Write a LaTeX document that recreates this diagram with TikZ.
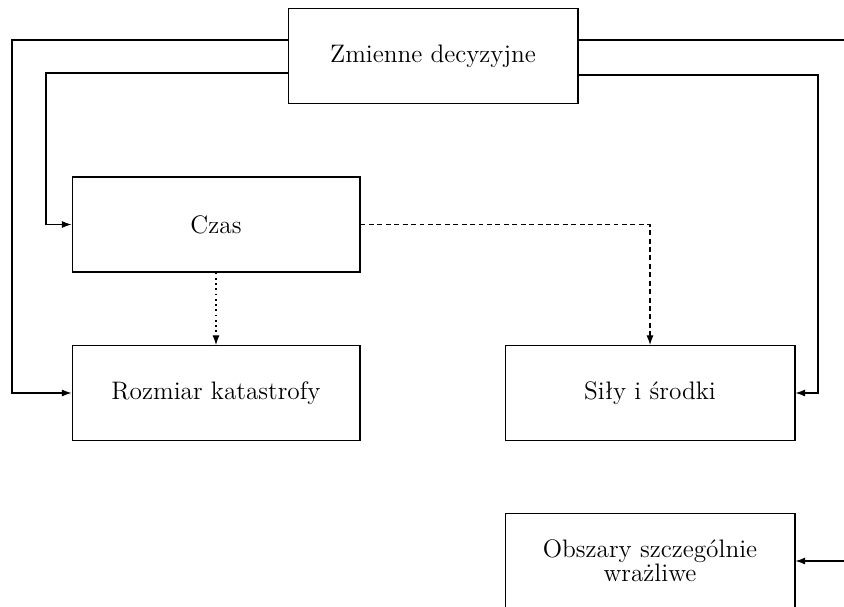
\documentclass[tikz,border=0pt]{standalone}
\usetikzlibrary{arrows.meta}
\begin{document}
\begin{tikzpicture}[
		x=0.02cm, y=-0.02cm,
		>={Latex[length=5.5pt,width=4pt]},
		line width=0.6pt,
		blok/.style={draw, minimum width=5.76cm, minimum height=1.9cm, font=\Large, align=center, inner sep=0pt},
		linia/.style={->},
		kreski/.style={->, dash pattern=on 2.8pt off 2pt},
		kropki/.style={->, dash pattern=on 1pt off 2pt}
	]
	\useasboundingbox (0,0) rectangle (844,607);
	\node[blok, minimum width=5.8cm] (zmienne) at (433,56) {Zmienne decyzyjne};
	\node[blok] (czas) at (216,224.5) {Czas};
	\node[blok] (rozmiar) at (216,393) {Rozmiar katastrofy};
	\node[blok, minimum width=5.8cm] (sily) at (650,393) {Siły i środki};
	\node[blok, minimum width=5.8cm] (obszary) at (650,561) {Obszary szczególnie\\[-4.4pt]wrażliwe};

	\coordinate (lewy) at (12,0);
	\coordinate (lewy2) at (46,0);
	\coordinate (prawy) at (818,0);
	\coordinate (brzeg1) at (844,40);
	\coordinate (brzeg2) at (844,561);

	\draw[linia] (zmienne.west |- 0,40) -| (lewy |- rozmiar.west) -- (rozmiar.west);
	\draw[linia] (zmienne.west |- 0,73) -| (lewy2 |- czas.west) -- (czas.west);
	\draw (zmienne.east |- 0,40) -- (brzeg1);
	\draw[linia] (zmienne.east |- 0,75) -| (prawy |- sily.east) -- (sily.east);
	\draw[linia] (brzeg2) -- (obszary.east);
	\draw[kropki] (czas.south) -- (rozmiar.north);
	\draw[kreski] (czas.east) -| (sily.north);
\end{tikzpicture}
\end{document}
